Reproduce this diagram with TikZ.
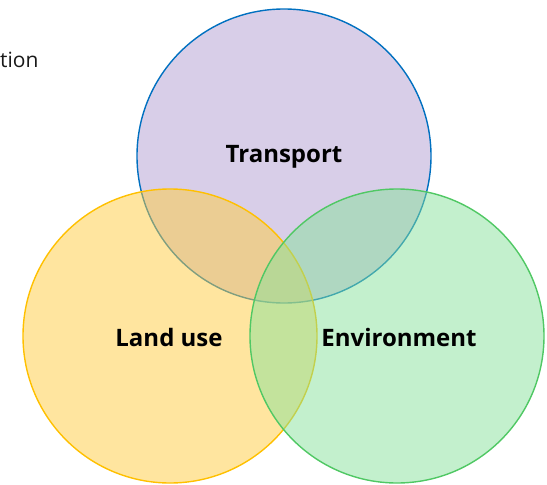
\documentclass[tikz,border=0pt]{standalone}
\usepackage{fontspec}
\setmainfont{Open Sans}
\begin{document}
\begin{tikzpicture}[x=1pt,y=-1pt,
  setcircle/.style={circle, minimum size=294pt, inner sep=0pt, line width=1.4pt, fill opacity=0.5, draw opacity=1},
  setlabel/.style={font=\bfseries\fontsize{24}{29}\selectfont, text=black},
  cuttext/.style={font=\fontsize{21}{25}\selectfont, text=black!90, anchor=base east}]
  \useasboundingbox (0,0) rectangle (547,485);
  \definecolor{tpfill}{RGB}{178,158,210}
  \definecolor{tpline}{RGB}{0,112,192}
  \definecolor{lufill}{RGB}{255,204,64}
  \definecolor{luline}{RGB}{255,192,0}
  \definecolor{envfill}{RGB}{135,225,155}
  \definecolor{envline}{RGB}{80,200,100}
  % overlapping circles, drawn back to front
  \node[setcircle, fill=tpfill, draw=tpline] (transport) at (284,156) {};
  \node[setcircle, fill=lufill, draw=luline] (landuse) at (170,336) {};
  \node[setcircle, fill=envfill, draw=envline] (environment) at (397,336) {};
  % labels
  \node[setlabel] (tlabel) at (284,157) {Transport};
  \node[setlabel] (llabel) at (169,337) {Land use};
  \node[setlabel] (elabel) at (399,337) {Environment};
  \node[cuttext] (cut) at (42,67) {tion};
\end{tikzpicture}
\end{document}
